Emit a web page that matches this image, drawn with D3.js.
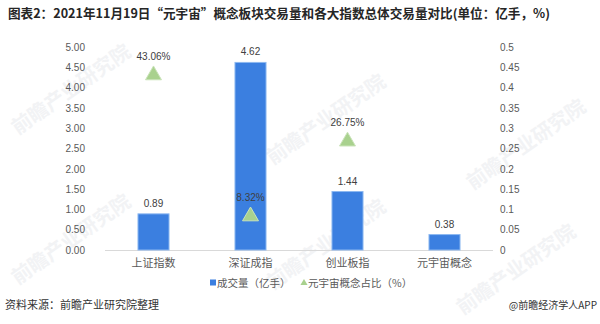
<!DOCTYPE html>
<html>
<head>
<meta charset="utf-8">
<script src="https://cdn.jsdelivr.net/npm/d3@7"></script>
<style>
  body { margin: 0; background: #fff; }
  svg { display: block; font-family: "Noto Sans CJK SC", "Microsoft YaHei", sans-serif; }
</style>
</head>
<body>
<div id="chart"></div>
<script>
// categories and values
const categories = ['上证指数', '深证成指', '创业板指', '元宇宙概念'];
const volume = [0.89, 4.62, 1.44, 0.38];          // 成交量（亿手）
const share = [0.4306, 0.0832, 0.2675, null];     // 元宇宙概念占比
const leftTicks = [0, 0.5, 1, 1.5, 2, 2.5, 3, 3.5, 4, 4.5, 5];
const rightTicks = [0, 0.05, 0.1, 0.15, 0.2, 0.25, 0.3, 0.35, 0.4, 0.45, 0.5];

const width = 600, height = 324;
const margin = { top: 47, right: 107, bottom: 74, left: 105 };

const svg = d3.select('#chart').append('svg')
  .attr('width', width)
  .attr('height', height);

// faint watermarks
const marks = [[75, 95], [75, 245], [330, 125], [330, 250], [530, 150], [520, 275]];
marks.forEach(m => {
  svg.append('text')
    .attr('transform', 'translate(' + m[0] + ',' + m[1] + ') rotate(-35)')
    .attr('text-anchor', 'middle')
    .attr('font-size', 20)
    .attr('font-weight', 'bold')
    .attr('fill', '#f2f3f5')
    .text('前瞻产业研究院');
});

svg.append('text')
  .attr('x', 8).attr('y', 18)
  .attr('font-size', 12.6).attr('font-weight', 'bold')
  .attr('fill', '#262626')
  .text('图表2：2021年11月19日“元宇宙”概念板块交易量和各大指数总体交易量对比(单位：亿手，%)');

const x = d3.scaleBand()
  .domain(categories)
  .range([margin.left, width - margin.right])
  .paddingInner(0.68).paddingOuter(0.34);

const yL = d3.scaleLinear().domain([0, 5]).range([height - margin.bottom, margin.top]);
const yR = d3.scaleLinear().domain([0, 0.5]).range([height - margin.bottom, margin.top]);

const grey = '#595959';

// left axis
const gl = svg.append('g')
  .attr('transform', 'translate(' + (margin.left - 17) + ',0)')
  .call(d3.axisLeft(yL).tickValues(leftTicks).tickFormat(d3.format('.2f')).tickSize(0));
gl.select('.domain').remove();
gl.selectAll('text').attr('fill', grey).attr('font-size', 10).attr('font-family', 'Liberation Sans, Arial, sans-serif');

// right axis
const gr = svg.append('g')
  .attr('transform', 'translate(' + (width - margin.right + 4) + ',0)')
  .call(d3.axisRight(yR).tickValues(rightTicks).tickFormat(d => d === 0 ? '0' : String(+d.toFixed(2))).tickSize(0));
gr.select('.domain').remove();
gr.selectAll('text').attr('fill', grey).attr('font-size', 10).attr('font-family', 'Liberation Sans, Arial, sans-serif');

// baseline
svg.append('line')
  .attr('x1', margin.left).attr('x2', width - margin.right)
  .attr('y1', yL(0) + 0.5).attr('y2', yL(0) + 0.5)
  .attr('stroke', '#d9d9d9');

// bars
svg.append('g').selectAll('rect')
  .data(volume)
  .enter().append('rect')
  .attr('x', (d, i) => x(categories[i]))
  .attr('y', d => yL(d))
  .attr('width', x.bandwidth())
  .attr('height', d => yL(0) - yL(d))
  .attr('fill', '#3b7fe0')
  .attr('stroke', '#8db8f0')
  .attr('stroke-width', 1);

svg.append('g').selectAll('text')
  .data(volume)
  .enter().append('text')
  .attr('x', (d, i) => x(categories[i]) + x.bandwidth() / 2)
  .attr('y', d => yL(d) - 7)
  .attr('text-anchor', 'middle')
  .attr('font-size', 10)
  .attr('font-family', 'Liberation Sans, Arial, sans-serif')
  .attr('fill', '#404040')
  .text(d => d.toFixed(2));

// triangles
const tri = d3.symbol().type(d3.symbolTriangle).size(110);
const pts = share.map((d, i) => ({ v: d, c: categories[i] })).filter(d => d.v !== null);
svg.append('g').selectAll('path')
  .data(pts)
  .enter().append('path')
  .attr('d', tri)
  .attr('transform', d => 'translate(' + (x(d.c) + x.bandwidth() / 2) + ',' + yR(d.v) + ')')
  .attr('fill', '#a9d18e')
  .attr('stroke', '#c9e3b8')
  .attr('stroke-width', 1);

svg.append('g').selectAll('text')
  .data(pts)
  .enter().append('text')
  .attr('x', d => x(d.c) + x.bandwidth() / 2)
  .attr('y', d => yR(d.v) - 15)
  .attr('text-anchor', 'middle')
  .attr('font-size', 10)
  .attr('font-family', 'Liberation Sans, Arial, sans-serif')
  .attr('fill', '#404040')
  .text(d => (d.v * 100).toFixed(2) + '%');

// category labels
svg.append('g').selectAll('text')
  .data(categories)
  .enter().append('text')
  .attr('x', d => x(d) + x.bandwidth() / 2)
  .attr('y', yL(0) + 17)
  .attr('text-anchor', 'middle')
  .attr('font-size', 11)
  .attr('fill', grey)
  .text(d => d);

// legend
const lg = svg.append('g').attr('transform', 'translate(0,' + (yL(0) + 33) + ')');
lg.append('rect').attr('x', 210).attr('y', -3.5).attr('width', 6).attr('height', 6).attr('fill', '#3b7fe0');
lg.append('text').attr('x', 217).attr('y', 4).attr('font-size', 10.5).attr('fill', grey).text('成交量（亿手）');
lg.append('path').attr('d', d3.symbol().type(d3.symbolTriangle).size(22))
  .attr('transform', 'translate(304,0)').attr('fill', '#a9d18e');
lg.append('text').attr('x', 308).attr('y', 4).attr('font-size', 10.5).attr('fill', grey).text('元宇宙概念占比（%）');

// footer
svg.append('text')
  .attr('x', 5).attr('y', 309)
  .attr('font-size', 11).attr('fill', '#333')
  .text('资料来源：前瞻产业研究院整理');
svg.append('text')
  .attr('x', 597).attr('y', 309)
  .attr('text-anchor', 'end')
  .attr('font-size', 10).attr('fill', '#333')
  .text('@前瞻经济学人APP');
</script>
</body>
</html>
